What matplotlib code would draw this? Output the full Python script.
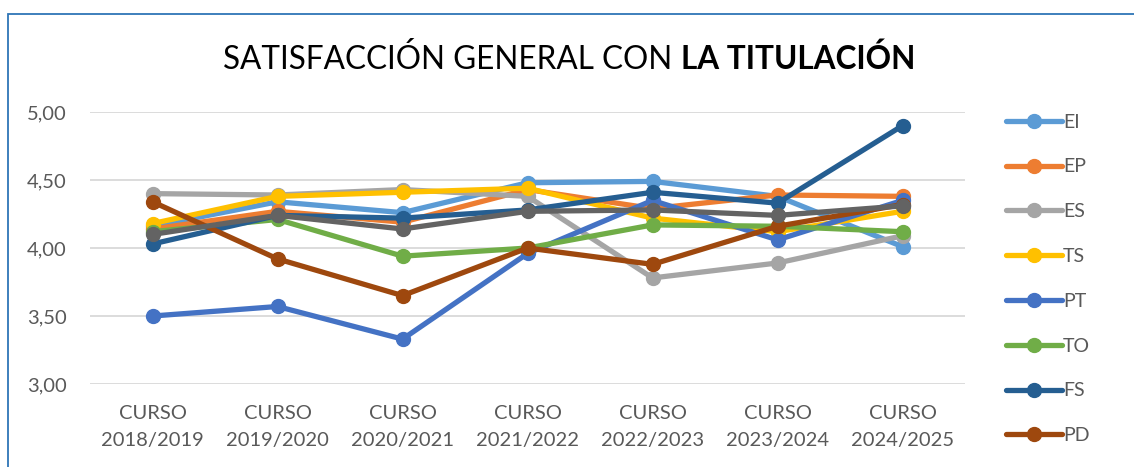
import matplotlib
matplotlib.use("Agg")
import matplotlib.pyplot as plt
from matplotlib.patches import Rectangle

plt.rcParams['font.family'] = ['Lato', 'DejaVu Sans']

# data
cursos = ["CURSO\n2018/2019", "CURSO\n2019/2020", "CURSO\n2020/2021", "CURSO\n2021/2022",
          "CURSO\n2022/2023", "CURSO\n2023/2024", "CURSO\n2024/2025"]
series_names = ["EI", "EP", "ES", "TS", "PT", "TO", "FS", "PD", "OTRO"]
ei = [4.16, 4.34, 4.26, 4.48, 4.49, 4.38, 4.01]
ep = [4.14, 4.27, 4.19, 4.43, 4.29, 4.39, 4.38]
es = [4.40, 4.39, 4.43, 4.38, 3.78, 3.89, 4.09]
ts = [4.18, 4.38, 4.41, 4.44, 4.22, 4.12, 4.27]
pt = [3.50, 3.57, 3.33, 3.96, 4.35, 4.06, 4.35]
to = [4.12, 4.21, 3.94, 4.00, 4.17, 4.16, 4.12]
fs = [4.03, 4.24, 4.22, 4.28, 4.41, 4.33, 4.90]
pd_ = [4.34, 3.92, 3.65, 4.00, 3.88, 4.16, 4.32]
otro = [4.10, 4.24, 4.14, 4.27, 4.28, 4.24, 4.31]
valores = [ei, ep, es, ts, pt, to, fs, pd_, otro]
colores = ["#5B9BD5", "#ED7D31", "#A5A5A5", "#FFC000", "#4472C4",
           "#70AD47", "#255E91", "#9E480E", "#636363"]
yticks = [3.0, 3.5, 4.0, 4.5, 5.0]

fig = plt.figure(figsize=(11.34, 4.67), dpi=100)
ax = fig.add_axes([0.0794, 0.1777, 0.7716, 0.5824])

x = list(range(len(cursos)))
handles = []
for name, vals, col in zip(series_names, valores, colores):
    h, = ax.plot(x, vals, color=col, lw=3.8, marker='o', markersize=10,
                 solid_capstyle='round', label=name, clip_on=False)
    handles.append(h)

ax.set_xlim(-0.5, 6.5)
ax.set_ylim(3.0, 5.0)
ax.set_yticks(yticks)
ax.set_yticklabels([f"{v:.2f}".replace(".", ",") for v in yticks])
ax.set_xticks(x)
ax.set_xticklabels(cursos, linespacing=1.75)
ax.tick_params(axis='both', length=0, labelsize=14.5, colors="#595959")
ax.tick_params(axis='y', pad=17)
ax.tick_params(axis='x', pad=15)
ax.grid(axis='y', color="#D9D9D9", lw=1.3)
ax.set_axisbelow(True)
for s in ax.spines.values():
    s.set_visible(False)

# legend (only the first eight fit in the picture)
fig.legend(handles=handles[:8], labels=series_names[:8], loc='upper left',
           bbox_to_anchor=(988 / 1134, 1 - 96 / 467), frameon=False,
           fontsize=14, handlelength=2.9, handletextpad=0.05,
           labelspacing=1.43, labelcolor="#595959")

# title: regular part + bold part
fig.text(672 / 1134, 1 - 69 / 467, "SATISFACCIÓN GENERAL CON", ha='right',
         va='baseline', fontsize=22.7, color="black")
fig.text(681 / 1134, 1 - 69 / 467, "LA TITULACIÓN", ha='left',
         va='baseline', fontsize=22.7, fontweight='bold', color="black")

# chart border, cut off on the right and bottom
fig.patches.append(Rectangle((8 / 1134, -0.1), 1.2, 1 - 14 / 467 + 0.1,
                             transform=fig.transFigure, fill=False,
                             edgecolor="#2E75B6", lw=1.3))

fig.savefig("out.png", dpi=100)
